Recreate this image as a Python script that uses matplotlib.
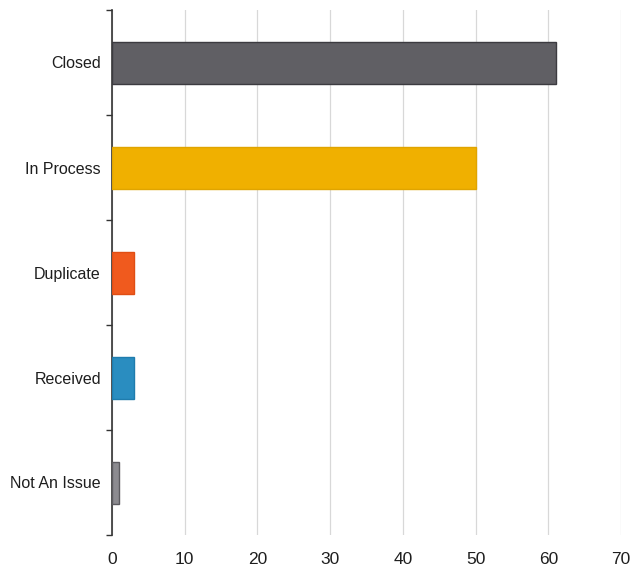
import numpy as np
import matplotlib.pyplot as plt
from matplotlib.ticker import FixedLocator

categories = ['Closed', 'In Process', 'Duplicate', 'Received', 'Not An Issue']
counts = [61, 50, 3, 3, 1]
bar_colors = ['#605f64', '#f0b000', '#f05a1e', '#2a8dc0', '#8c8b90']
edge_colors = ['#3c3b40', '#e0a400', '#e04e14', '#1f7cad', '#5c5b60']
x_ticks = [0, 10, 20, 30, 40, 50, 60, 70]

plt.rcParams['font.family'] = ['Liberation Sans', 'DejaVu Sans']

fig = plt.figure(figsize=(6.41, 5.73), dpi=100)
ax = fig.add_axes([112 / 641, 1 - 535 / 573, 509 / 641, 525 / 573])

y = np.arange(len(categories))
ax.barh(y, counts, height=0.4, color=bar_colors, edgecolor=edge_colors,
        linewidth=1.0, zorder=3)

ax.set_xlim(0, 70)
ax.set_ylim(len(categories) - 0.5, -0.5)
ax.set_xticks(x_ticks)
ax.set_yticks(y)
ax.set_yticklabels(categories, color='#1e1e1e')
ax.yaxis.set_minor_locator(FixedLocator(np.arange(-0.5, len(categories), 1)))

ax.tick_params(axis='y', which='major', length=0, pad=8, labelsize=11.5)
ax.tick_params(axis='y', which='minor', length=4, width=1, color='#333333')
ax.tick_params(axis='x', length=0, pad=12, labelsize=12.5, labelcolor='#1e1e1e')

for s in ['top', 'right', 'bottom']:
    ax.spines[s].set_visible(False)
ax.spines['left'].set_color('#333333')
ax.spines['left'].set_linewidth(1.2)

ax.xaxis.grid(True, color='#d8d8d8', linewidth=0.9, zorder=0)
ax.set_axisbelow(True)

fig.savefig('out.png', dpi=100)
